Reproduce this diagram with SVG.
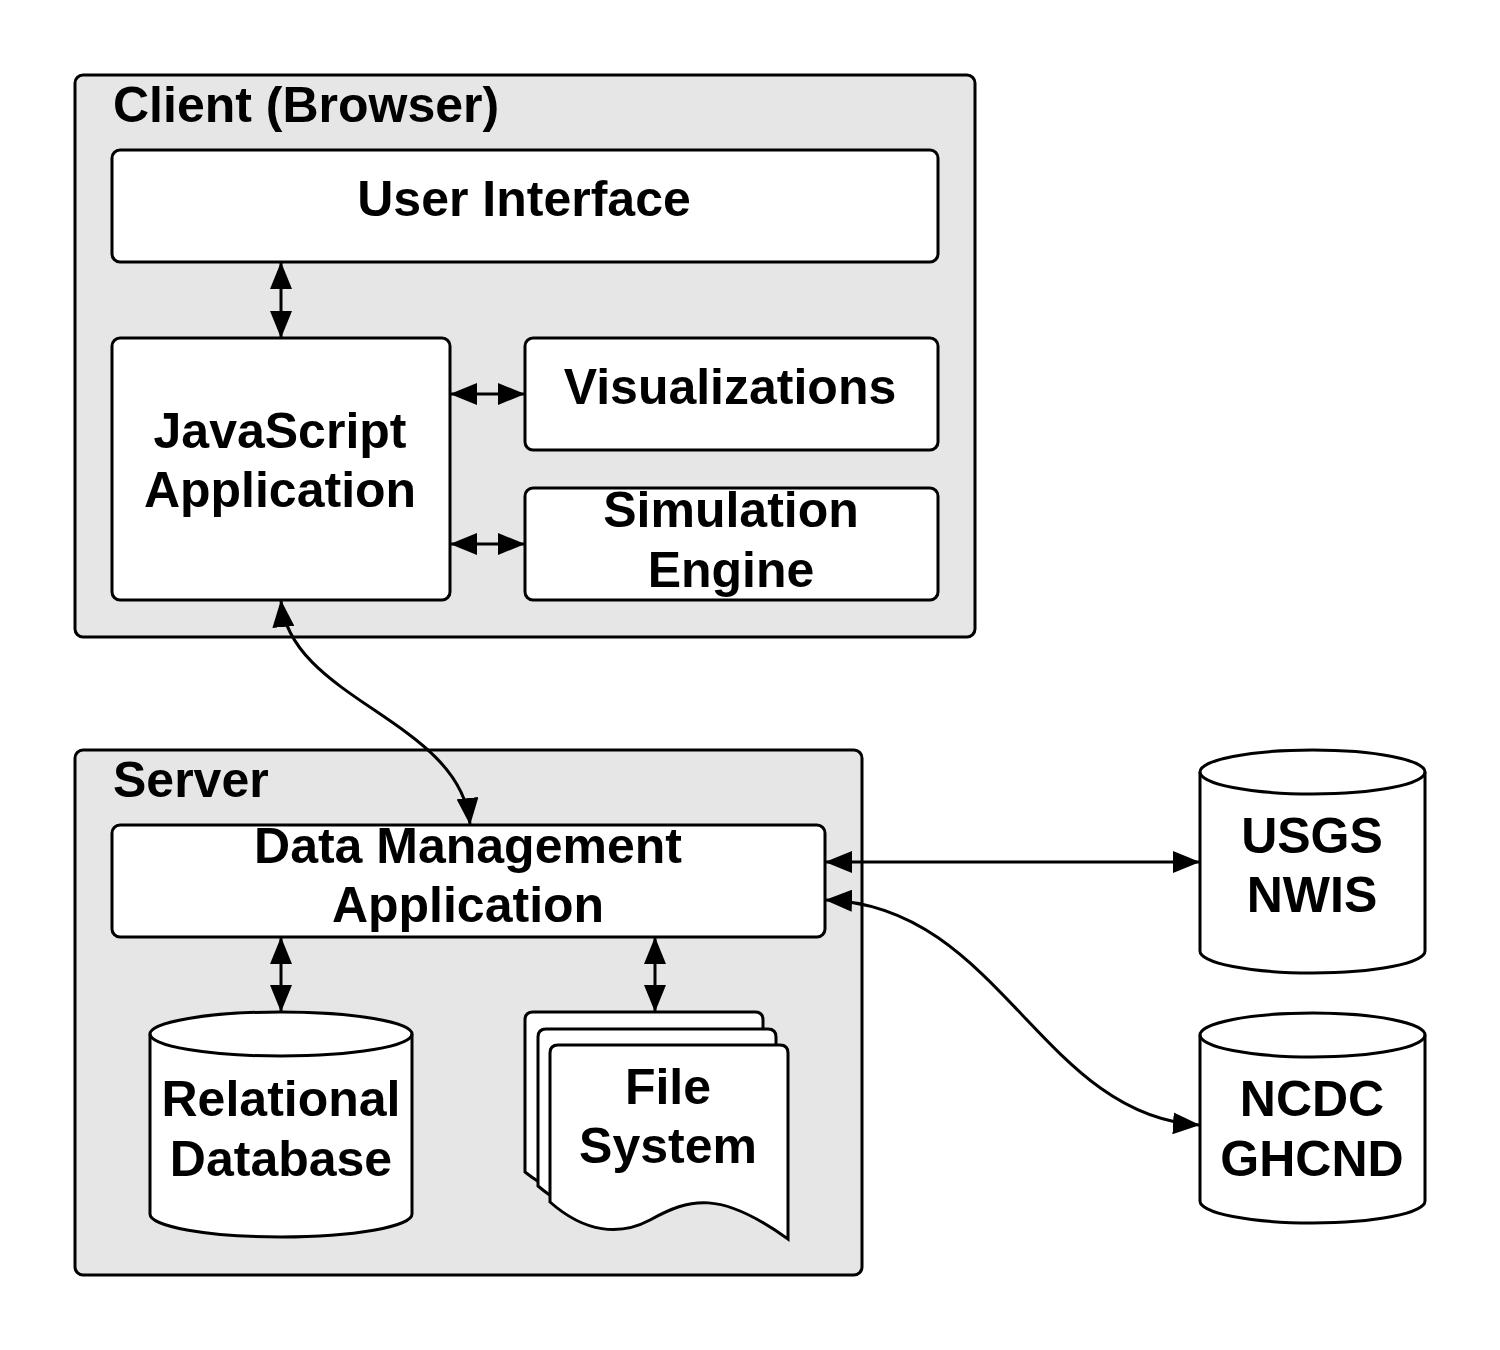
<svg xmlns="http://www.w3.org/2000/svg" width="1500" height="1350" viewBox="0 0 1500 1350">
<style>
.container{fill:#e6e6e6;stroke:#000;stroke-width:3}
.box{fill:#fff;stroke:#000;stroke-width:3}
.lbl{font-family:"Liberation Sans",Arial,sans-serif;font-weight:bold;font-size:50px;fill:#000}
.mid{text-anchor:middle}
.conn{fill:none;stroke:#000;stroke-width:3;marker-start:url(#arr);marker-end:url(#arr)}
</style>
<defs>
<marker id="arr" viewBox="0 0 27 22" refX="26" refY="11" markerWidth="27" markerHeight="22" markerUnits="userSpaceOnUse" orient="auto-start-reverse">
<path d="M0,0 L27,11 L0,22 Z" fill="#000"/>
</marker>
</defs>
<rect width="1500" height="1350" fill="#fff"/>

<g id="client">
<rect class="container" x="75" y="75" width="900" height="562" rx="8"/>
<text class="lbl" x="113" y="122">Client (Browser)</text>
</g>
<g id="server">
<rect class="container" x="75" y="750" width="787" height="525" rx="8"/>
<text class="lbl" x="113" y="797">Server</text>
</g>

<g id="user-interface">
<rect class="box" x="112" y="150" width="826" height="112" rx="8"/>
<text class="lbl mid" x="524" y="216">User Interface</text>
</g>
<g id="javascript-app">
<rect class="box" x="112" y="338" width="338" height="262" rx="8"/>
<text class="lbl mid" x="280" y="448">JavaScript</text>
<text class="lbl mid" x="280" y="507">Application</text>
</g>
<g id="visualizations">
<rect class="box" x="525" y="338" width="413" height="112" rx="8"/>
<text class="lbl mid" x="730" y="404">Visualizations</text>
</g>
<g id="simulation-engine">
<rect class="box" x="525" y="488" width="413" height="112" rx="8"/>
<text class="lbl mid" x="731" y="527">Simulation</text>
<text class="lbl mid" x="731" y="587">Engine</text>
</g>
<g id="data-management">
<rect class="box" x="112" y="825" width="713" height="112" rx="8"/>
<text class="lbl mid" x="468" y="863">Data Management</text>
<text class="lbl mid" x="468" y="922">Application</text>
</g>
<g id="relational-db">
<path class="box" d="M150,1034 L150,1214 A131,23 0 0 0 412,1214 L412,1034 A131,22 0 0 0 150,1034 Z"/>
<path class="box" style="fill:none" d="M150,1034 A131,22 0 0 0 412,1034"/>
<text class="lbl mid" x="281" y="1116">Relational</text>
<text class="lbl mid" x="281" y="1176">Database</text>
</g>
<g id="file-system">
<path class="box" d="M525,1172 L525,1020 Q525,1012 533,1012 L755,1012 Q763,1012 763,1020 L763,1206 C695,1157 665,1165 625,1187 C595,1203 560,1200 525,1172 Z"/>
<path class="box" d="M538,1186 L538,1037 Q538,1029 546,1029 L768,1029 Q776,1029 776,1037 L776,1222 C708,1173 678,1181 638,1203 C608,1219 573,1216 538,1186 Z"/>
<path class="box" d="M550,1202 L550,1053 Q550,1045 558,1045 L780,1045 Q788,1045 788,1053 L788,1239 C720,1190 690,1198 650,1220 C620,1236 585,1233 550,1202 Z"/>
<text class="lbl mid" x="668" y="1104">File</text>
<text class="lbl mid" x="668" y="1163">System</text>
</g>
<g id="usgs-nwis">
<path class="box" d="M1200,772 L1200,951 A112.5,22 0 0 0 1425,951 L1425,772 A112.5,22 0 0 0 1200,772 Z"/>
<path class="box" style="fill:none" d="M1200,772 A112.5,22 0 0 0 1425,772"/>
<text class="lbl mid" x="1312" y="853">USGS</text>
<text class="lbl mid" x="1312" y="912">NWIS</text>
</g>
<g id="ncdc-ghcnd">
<path class="box" d="M1200,1035 L1200,1201 A112.5,22 0 0 0 1425,1201 L1425,1035 A112.5,22 0 0 0 1200,1035 Z"/>
<path class="box" style="fill:none" d="M1200,1035 A112.5,22 0 0 0 1425,1035"/>
<text class="lbl mid" x="1312" y="1116">NCDC</text>
<text class="lbl mid" x="1312" y="1176">GHCND</text>
</g>

<g id="connectors">
<path class="conn" d="M281,263 L281,337"/>
<path class="conn" d="M451,394 L524,394"/>
<path class="conn" d="M451,544 L524,544"/>
<path class="conn" d="M281,601 C290,700 460,720 470,824"/>
<path class="conn" d="M281,938 L281,1011"/>
<path class="conn" d="M655,938 L655,1011"/>
<path class="conn" d="M826,862 L1199,862"/>
<path class="conn" d="M826,900 C1000,905 1040,1115 1199,1125"/>
</g>
</svg>
